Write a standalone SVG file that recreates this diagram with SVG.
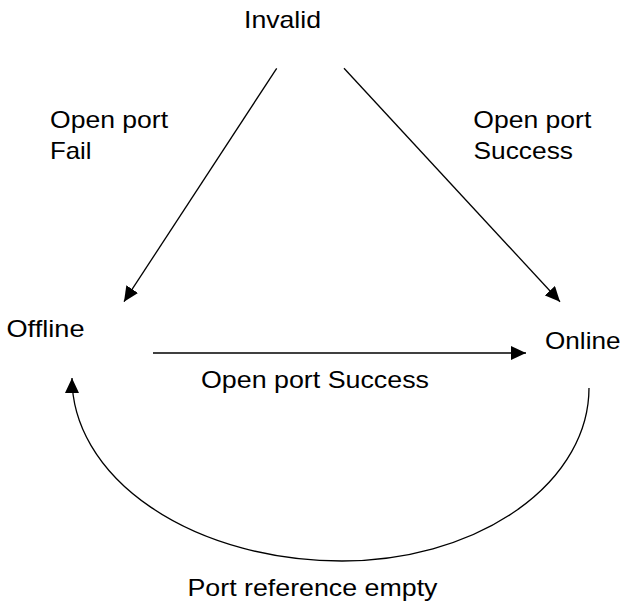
<svg xmlns="http://www.w3.org/2000/svg" width="624" height="606" viewBox="0 0 624 606">
  <style>
    .lbl { font-family: "Liberation Sans", Arial, sans-serif; font-size: 24px; fill: #000; }
    .edge { fill: none; stroke: #000; stroke-width: 1.3; }
  </style>
  <defs>
    <marker id="arrow" markerUnits="userSpaceOnUse" markerWidth="15" markerHeight="14" refX="15" refY="7" orient="auto">
      <path d="M0,0 L15,7 L0,14 Z" fill="#000"/>
    </marker>
  </defs>
  <rect width="624" height="606" fill="#fff"/>

  <!-- state nodes -->
  <g id="invalid">
    <text class="lbl" x="244" y="28.3" textLength="77" lengthAdjust="spacingAndGlyphs">Invalid</text>
  </g>
  <g id="offline">
    <text class="lbl" x="6.5" y="337.3" textLength="78" lengthAdjust="spacingAndGlyphs">Offline</text>
  </g>
  <g id="online">
    <text class="lbl" x="545" y="349.3" textLength="75.5" lengthAdjust="spacingAndGlyphs">Online</text>
  </g>

  <!-- transitions -->
  <g id="connectors">
    <line class="edge" x1="276.7" y1="68.3" x2="124" y2="301.7" marker-end="url(#arrow)"/>
    <line class="edge" x1="344" y1="68.3" x2="560" y2="301.7" marker-end="url(#arrow)"/>
    <line class="edge" x1="153" y1="353" x2="526" y2="353" marker-end="url(#arrow)"/>
    <path class="edge" d="M589,388 A247,173 0 0 1 342,561 A270,183 0 0 1 72,378" marker-end="url(#arrow)"/>
  </g>

  <!-- transition labels -->
  <g id="labels">
    <text class="lbl" x="50" y="128.3" textLength="118" lengthAdjust="spacingAndGlyphs">Open port</text>
    <text class="lbl" x="50" y="159.3" textLength="41.5" lengthAdjust="spacingAndGlyphs">Fail</text>
    <text class="lbl" x="473.3" y="128.3" textLength="118" lengthAdjust="spacingAndGlyphs">Open port</text>
    <text class="lbl" x="473.5" y="159.3" textLength="99.5" lengthAdjust="spacingAndGlyphs">Success</text>
    <text class="lbl" x="201" y="388.3" textLength="228" lengthAdjust="spacingAndGlyphs">Open port Success</text>
    <text class="lbl" x="187.5" y="596" textLength="250" lengthAdjust="spacingAndGlyphs">Port reference empty</text>
  </g>
</svg>
